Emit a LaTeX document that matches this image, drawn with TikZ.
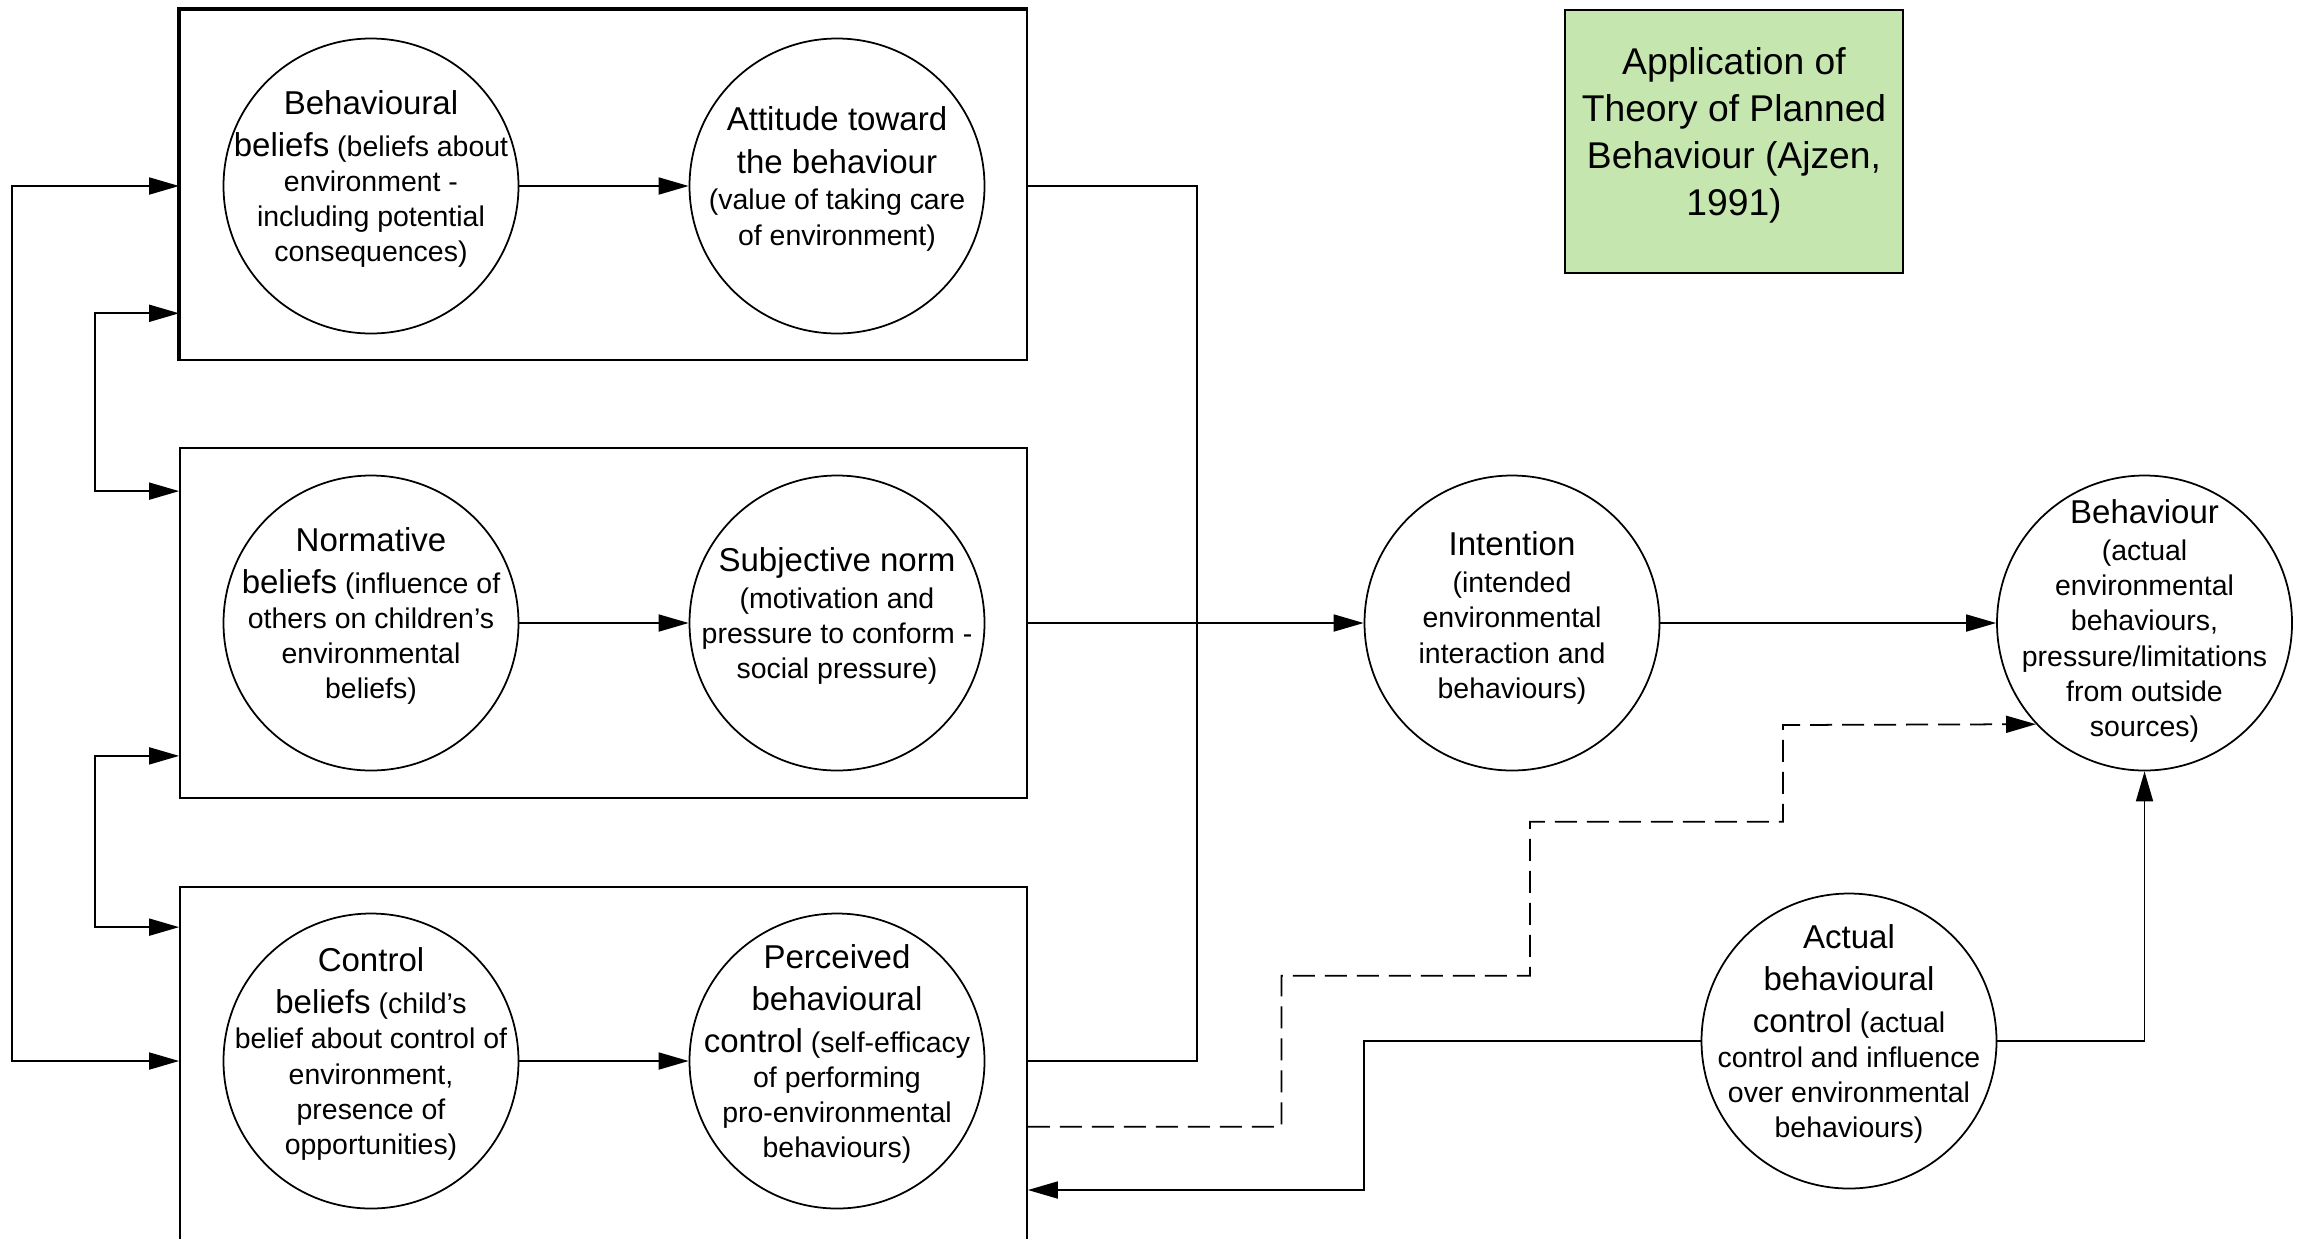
\documentclass[tikz,border=0pt]{standalone}
\usepackage{fontspec}
\setmainfont{Liberation Sans}
\usetikzlibrary{arrows.meta}
\definecolor{titlegreen}{RGB}{197,231,175}
\newcommand{\bigtxt}{\fontsize{9.4}{11.8}\selectfont}
\newcommand{\smalltxt}{\fontsize{8.1}{10}\selectfont}

\begin{document}
\begin{tikzpicture}[line width=0.5pt,
	>={Triangle[length=0.3cm,width=0.17cm]},
	bubble/.style={draw, circle, minimum size=2.95cm, inner sep=0pt},
	note/.style={align=center, font=\smalltxt, inner sep=0pt},
	group/.style={draw, minimum width=8.47cm, inner sep=0pt},
	titlebox/.style={draw, fill=titlegreen, align=center, minimum width=3.38cm, minimum height=2.63cm, text depth=5.5pt, font=\fontsize{10.6}{13.4}\selectfont}]
	\clip (0,0) rectangle (23.1,-12.38);
	% the three groups
	\node[group, minimum height=3.5cm] (b1) at (6.035,-1.85) {};
	\node[group, minimum height=3.5cm] (b2) at (6.035,-6.23) {};
	\node[group, minimum height=3.8cm] (b3) at (6.035,-10.77) {};
	\draw[line width=1.1pt] (b1.south west) -- (b1.north west) -- (b1.north east);
	% circles
	\node[bubble] (bb) at (3.71,-1.86) {};
	\node[bubble] (at) at (8.37,-1.86) {};
	\node[bubble] (nb) at (3.71,-6.23) {};
	\node[bubble] (sn) at (8.37,-6.23) {};
	\node[bubble] (cb) at (3.71,-10.61) {};
	\node[bubble] (pbc) at (8.37,-10.61) {};
	\node[bubble] (int) at (15.12,-6.23) {};
	\node[bubble] (beh) at (21.445,-6.23) {};
	\node[bubble] (abc) at (18.49,-10.41) {};
	% texts
	\node[note] (bbt) at ([yshift=0.7mm]bb) {{\bigtxt Behavioural}\\[2pt]{\bigtxt beliefs} (beliefs about\\environment -\\including potential\\consequences)};
	\node[note] (att) at ([yshift=0.7mm]at) {{\bigtxt Attitude toward}\\[2pt]{\bigtxt the behaviour}\\[0.5pt](value of taking care\\of environment)};
	\node[note] (nbt) at ([yshift=0.7mm]nb) {{\bigtxt Normative}\\[2pt]{\bigtxt beliefs} (influence of\\others on children's\\environmental\\beliefs)};
	\node[note] (snt) at ([yshift=0.7mm]sn) {{\bigtxt Subjective norm}\\[0.5pt](motivation and\\pressure to conform -\\social pressure)};
	\node[note] (cbt) at ([yshift=0.7mm]cb) {{\bigtxt Control}\\[2pt]{\bigtxt beliefs} (child's\\belief about control of\\environment,\\presence of\\opportunities)};
	\node[note] (pbct) at ([yshift=0.7mm]pbc) {{\bigtxt Perceived}\\[2pt]{\bigtxt behavioural}\\[2pt]{\bigtxt control} (self-efficacy\\of performing\\pro-environmental\\behaviours)};
	\node[note] (intt) at ([yshift=0.5mm]int) {{\bigtxt Intention}\\[0.5pt](intended\\environmental\\interaction and\\behaviours)};
	\node[note] (beht) at ([yshift=0.2mm]beh) {{\bigtxt Behaviour}\\[0.5pt](actual\\environmental\\behaviours,\\pressure/limitations\\from outside\\sources)};
	\node[note] (abct) at ([yshift=0.7mm]abc) {{\bigtxt Actual}\\[2pt]{\bigtxt behavioural}\\[2pt]{\bigtxt control} (actual\\control and influence\\over environmental\\behaviours)};
	\node[titlebox] (ttl) at (17.34,-1.415) {Application of\\Theory of Planned\\Behaviour (Ajzen,\\1991)};
	% arrows inside the groups
	\draw[->] (bb) -- (at);
	\draw[->] (nb) -- (sn);
	\draw[->] (cb) -- (pbc);
	% left side
	\draw[<->] (b1.west |- bb) -- ++(-1.67,0) |- (b3.west |- cb);
	\draw[<->] ([yshift=4.76mm]b1.south west) -- ++(-0.84,0) |- ([yshift=-4.4mm]b2.north west);
	\draw[<->] ([yshift=4.3mm]b2.south west) -- ++(-0.84,0) |- ([yshift=-4.1mm]b3.north west);
	% right side
	\draw (b1.east |- at) -- ++(1.69,0) |- (b3.east |- pbc);
	\draw[->] (b2.east |- int) -- (int);
	\draw[->] (int) -- (beh);
	\draw[->] (abc) -| (beh);
	\draw[->] (abc.west) -- ++(-3.365,0) |- (b3.east |- 0,-11.9);
	\draw[->, dash pattern=on 0.22cm off 0.1cm] (b3.east |- 0,-11.267) -| (12.815,-9.757) -| (15.3,-8.217) -| (17.83,-7.25) -- (beh.223.6);
\end{tikzpicture}
\end{document}
